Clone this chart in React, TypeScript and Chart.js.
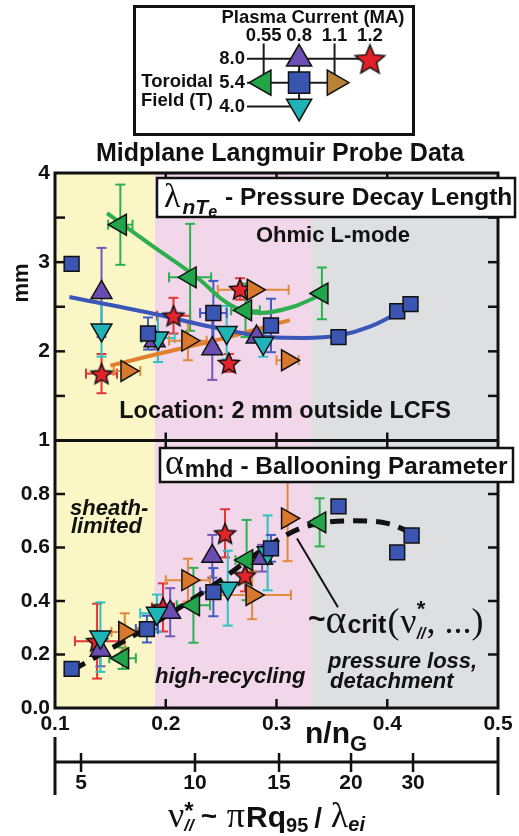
import React, { useEffect, useRef } from 'react';
import { Chart, registerables } from 'chart.js';

Chart.register(...registerables);

const SANS = "'Liberation Sans', Arial, Helvetica, sans-serif";
const SERIF = "'Liberation Serif', 'DejaVu Serif', 'Times New Roman', serif";

// ---------- axes ----------
const densityTicks = [0.1, 0.2, 0.3, 0.4, 0.5];
const lambdaTickMarks = [1.5, 2, 2.5, 3, 3.5];
const alphaTickMarks = [0.2, 0.4, 0.6, 0.8];
const nuTickLabels = [5, 10, 15, 20, 30];
const nuTickDensity = [0.1235, 0.2264, 0.3023, 0.3673, 0.4233];
const regionBounds = [0.1, 0.19, 0.332, 0.5];
const regionColors = ['#FAF6C6', '#F2D6EA', '#DEDFE1'];

// ---------- legend (schematic) ----------
const currentLabels = ['0.55', '0.8', '1.1', '1.2'];
const fieldLabels = ['4.0', '5.4', '8.0'];
const fieldLineEnd = [1, 2, 3];
// order: purple, red, green, blue, orange, cyan
const legendCurrentIdx = [1, 3, 0, 1, 2, 1];
const legendFieldIdx = [2, 2, 1, 1, 1, 0];

// ---------- colours ----------
const C = {
  blue: '#3A55B2',
  green: '#22A44A',
  orange: '#D8782C',
  purple: '#6B4DB2',
  cyan: '#1FB5B8',
  red: '#E3242B',
};
const CE = {
  blue: '#3F5CC4',
  green: '#2DB04F',
  orange: '#E08A3C',
  purple: '#7457B8',
  cyan: '#2EC2C2',
  red: '#E53535',
};

// ---------- top panel: lambda_nTe (mm) ----------
const blueTopX = [0.115, 0.184, 0.243, 0.295, 0.356, 0.409, 0.421];
const blueTopY = [2.98, 2.2, 2.43, 2.29, 2.16, 2.45, 2.53];
const blueTopYErr = [0.05, 0.18, 0.36, 0.3, 0, 0, 0];
const blueTopXErr = [0, 0, 0.012, 0, 0, 0, 0];

const greenTopX = [0.159, 0.222, 0.272, 0.341];
const greenTopY = [3.42, 2.83, 2.46, 2.65];
const greenTopYErr = [0.45, 0.6, 0.3, 0.29];
const greenTopXErr = [0.011, 0.019, 0.013, 0];

const orangeTopX = [0.165, 0.22, 0.279, 0.31];
const orangeTopY = [1.78, 2.12, 2.69, 1.9];
const orangeTopYErr = [0.05, 0.22, 0.05, 0.04];
const orangeTopXErr = [0.012, 0.017, 0.032, 0.01];

const purpleTopX = [0.142, 0.19, 0.242, 0.282];
const purpleTopY = [2.66, 2.12, 2.03, 2.16];
const purpleTopYErr = [0.5, 0.1, 0.35, 0.06];
const purpleTopXErr = [0, 0, 0, 0];

const cyanTopX = [0.142, 0.193, 0.255, 0.288];
const cyanTopY = [2.24, 2.15, 2.21, 2.09];
const cyanTopYErr = [0.3, 0.27, 0.3, 0.15];
const cyanTopXErr = [0, 0.015, 0, 0];

const redTopX = [0.142, 0.207, 0.257, 0.267];
const redTopY = [1.75, 2.4, 1.87, 2.7];
const redTopYErr = [0.22, 0.2, 0.1, 0.12];
const redTopXErr = [0.014, 0.015, 0, 0];

const blueFitX = [0.113, 0.186, 0.243, 0.294, 0.325, 0.357, 0.385, 0.409, 0.425];
const blueFitY = [2.61, 2.43, 2.27, 2.16, 2.15, 2.18, 2.28, 2.43, 2.56];
const greenFitX = [0.147, 0.186, 0.231, 0.249, 0.265, 0.285, 0.315, 0.341];
const greenFitY = [3.55, 3.2, 2.8, 2.6, 2.48, 2.43, 2.5, 2.64];
const orangeFitX = [0.15, 0.186, 0.25, 0.312];
const orangeFitY = [1.84, 1.95, 2.14, 2.35];

// ---------- bottom panel: alpha_mhd ----------
const blueBotX = [0.115, 0.183, 0.243, 0.295, 0.356, 0.409, 0.422];
const blueBotY = [0.146, 0.295, 0.433, 0.597, 0.754, 0.582, 0.645];
const blueBotYErr = [0.01, 0.05, 0.09, 0.05, 0, 0, 0];
const blueBotXErr = [0, 0.01, 0.012, 0, 0, 0, 0];

const greenBotX = [0.161, 0.225, 0.273, 0.339];
const greenBotY = [0.186, 0.384, 0.553, 0.694];
const greenBotYErr = [0.04, 0.14, 0.15, 0.09];
const greenBotXErr = [0.012, 0.015, 0.01, 0.005];

const orangeBotX = [0.163, 0.22, 0.278, 0.31];
const orangeBotY = [0.284, 0.478, 0.422, 0.709];
const orangeBotYErr = [0.07, 0.08, 0.09, 0.16];
const orangeBotXErr = [0.012, 0.02, 0.035, 0];

const purpleBotX = [0.141, 0.204, 0.242, 0.287];
const purpleBotY = [0.216, 0.358, 0.567, 0.56];
const purpleBotYErr = [0.06, 0.09, 0.08, 0.05];
const purpleBotXErr = [0, 0, 0, 0];

const cyanBotX = [0.141, 0.192, 0.256, 0.292];
const cyanBotY = [0.265, 0.354, 0.448, 0.58];
const cyanBotYErr = [0.13, 0.07, 0.14, 0.14];
const cyanBotXErr = [0, 0.015, 0, 0];

const redBotX = [0.138, 0.1975, 0.2535, 0.2716];
const redBotY = [0.25, 0.376, 0.653, 0.496];
const redBotYErr = [0.14, 0.09, 0.09, 0.06];
const redBotXErr = [0.02, 0.01, 0, 0];

const alphaFitX = [0.116, 0.183, 0.24, 0.294, 0.324, 0.369, 0.4, 0.427];
const alphaFitY = [0.142, 0.3, 0.45, 0.61, 0.675, 0.7, 0.69, 0.645];

const pointerX = [0.3185, 0.3555];
const pointerY = [0.634, 0.377];

// ---------- helpers ----------
function makeStar(R: number, fill: string) {
  const pad = 3;
  const size = Math.ceil(2 * R + 2 * pad);
  const c = document.createElement('canvas');
  c.width = size;
  c.height = size;
  const g = c.getContext('2d')!;
  const cx = size / 2;
  const cy = size / 2 + R * 0.1;
  const r = R * 0.45;
  g.beginPath();
  for (let i = 0; i < 10; i++) {
    const a = -Math.PI / 2 + (i * Math.PI) / 5;
    const rr = i % 2 === 0 ? R : r;
    const px = cx + rr * Math.cos(a);
    const py = cy + rr * Math.sin(a);
    if (i === 0) g.moveTo(px, py);
    else g.lineTo(px, py);
  }
  g.closePath();
  g.fillStyle = fill;
  g.fill();
  g.lineWidth = 1.5;
  g.strokeStyle = '#111';
  g.stroke();
  return c;
}

function pts(xs: number[], ys: number[]) {
  return xs.map((x, i) => ({ x, y: ys[i] }));
}

function markerSet(
  xs: number[], ys: number[], axis: string, color: string, style: any, rotation: number,
  radius: number, errY: number[], errX: number[], errColor: string, order: number
) {
  return {
    type: 'scatter',
    data: pts(xs, ys),
    yAxisID: axis,
    xAxisID: 'x',
    pointStyle: style,
    pointRotation: rotation,
    pointRadius: radius,
    pointBackgroundColor: color,
    pointBorderColor: '#111',
    pointBorderWidth: 1.5,
    showLine: false,
    errY,
    errX,
    errColor,
    order,
  };
}

function fitSet(xs: number[], ys: number[], axis: string, color: string, width: number, dash: number[]) {
  return {
    type: 'line',
    data: pts(xs, ys),
    yAxisID: axis,
    xAxisID: 'x',
    borderColor: color,
    borderWidth: width,
    borderDash: dash,
    borderCapStyle: 'butt',
    pointRadius: 0,
    fill: false,
    cubicInterpolationMode: 'monotone',
    order: 20,
  };
}

function line(ctx: CanvasRenderingContext2D, x1: number, y1: number, x2: number, y2: number) {
  ctx.beginPath();
  ctx.moveTo(x1, y1);
  ctx.lineTo(x2, y2);
  ctx.stroke();
}

type Run = { t: string; f: string; dy?: number; stack?: boolean; gap?: number };
function drawRuns(ctx: CanvasRenderingContext2D, x: number, y: number, runs: Run[]) {
  let cx = x;
  for (let i = 0; i < runs.length; i++) {
    const r = runs[i];
    ctx.font = r.f;
    ctx.fillText(r.t, cx, y + (r.dy || 0));
    let w = ctx.measureText(r.t).width;
    if (r.stack && runs[i + 1]) {
      const n = runs[i + 1];
      ctx.font = n.f;
      ctx.fillText(n.t, cx, y + (n.dy || 0));
      w = Math.max(w, ctx.measureText(n.t).width);
      i++;
      cx += w + (n.gap || 0);
      continue;
    }
    cx += w + (r.gap || 0);
  }
  return cx;
}

const B = (s: number) => `bold ${s}px ${SANS}`;
const BI = (s: number) => `italic bold ${s}px ${SANS}`;
const S = (s: number) => `${s}px ${SERIF}`;

const figurePlugin = {
  id: 'figure',
  beforeDatasetsDraw(chart: any) {
    const { ctx, chartArea: ca, scales } = chart;
    const xs = scales.x;
    ctx.save();
    for (let i = 0; i < regionColors.length; i++) {
      const a = xs.getPixelForValue(regionBounds[i]);
      const b = xs.getPixelForValue(regionBounds[i + 1]);
      ctx.fillStyle = regionColors[i];
      ctx.fillRect(a, ca.top, b - a, ca.height);
    }
    ctx.lineWidth = 2;
    const cap = 5;
    chart.data.datasets.forEach((ds: any) => {
      if (!ds.errY) return;
      const ys = scales[ds.yAxisID];
      ctx.strokeStyle = ds.errColor;
      ds.data.forEach((p: any, j: number) => {
        const px = xs.getPixelForValue(p.x);
        const py = ys.getPixelForValue(p.y);
        const ey = ds.errY[j] || 0;
        const ex = (ds.errX && ds.errX[j]) || 0;
        if (ey > 0) {
          const a = ys.getPixelForValue(p.y + ey);
          const b = ys.getPixelForValue(p.y - ey);
          line(ctx, px, a, px, b);
          line(ctx, px - cap, a, px + cap, a);
          line(ctx, px - cap, b, px + cap, b);
        }
        if (ex > 0) {
          const a = xs.getPixelForValue(p.x - ex);
          const b = xs.getPixelForValue(p.x + ex);
          line(ctx, a, py, b, py);
          line(ctx, a, py - cap, a, py + cap);
          line(ctx, b, py - cap, b, py + cap);
        }
      });
    });
    ctx.restore();
  },
  afterDatasetsDraw(chart: any) {
    const { ctx, chartArea: ca, scales } = chart;
    const xs = scales.x;
    const yT = scales.yTop;
    const yB = scales.yBot;
    const x2 = scales.x2;
    const mid = yT.bottom;
    ctx.save();
    ctx.strokeStyle = '#111';
    ctx.fillStyle = '#111';
    ctx.lineWidth = 3;
    ctx.strokeRect(ca.left, ca.top, ca.width, ca.height);
    line(ctx, ca.left, mid, ca.right, mid);
    ctx.lineWidth = 2.5;
    for (const v of densityTicks.slice(1, -1)) {
      const px = xs.getPixelForValue(v);
      line(ctx, px, ca.top, px, ca.top + 9);
      line(ctx, px, mid - 8, px, mid + 8);
      line(ctx, px, ca.bottom - 9, px, ca.bottom);
    }
    for (const v of lambdaTickMarks) {
      const py = yT.getPixelForValue(v);
      line(ctx, ca.left, py, ca.left + 10, py);
      line(ctx, ca.right - 10, py, ca.right, py);
    }
    for (const v of alphaTickMarks) {
      const py = yB.getPixelForValue(v);
      line(ctx, ca.left, py, ca.left + 10, py);
      line(ctx, ca.right - 10, py, ca.right, py);
    }
    // secondary collisionality axis
    const ay = x2.top;
    ctx.lineWidth = 3;
    line(ctx, ca.left, ay, ca.right, ay);
    line(ctx, ca.left, ay - 25, ca.left, ay + 33);
    line(ctx, ca.right, ay - 25, ca.right, ay + 33);
    ctx.lineWidth = 2.5;
    for (const v of nuTickDensity) {
      const px = x2.getPixelForValue(v);
      line(ctx, px, ay - 9, px, ay + 10);
    }

    // title
    ctx.textBaseline = 'alphabetic';
    ctx.textAlign = 'center';
    ctx.font = B(25);
    ctx.fillText('Midplane Langmuir Probe Data', 280, 26);

    // mm label
    ctx.save();
    ctx.translate(22, 148);
    ctx.rotate(-Math.PI / 2);
    ctx.textBaseline = 'middle';
    ctx.font = B(22);
    ctx.fillText('mm', 0, 0);
    ctx.restore();

    ctx.font = B(22);
    ctx.fillText('Ohmic L-mode', 333, 107);
    ctx.font = B(23.5);
    ctx.fillText('Location: 2 mm outside LCFS', 285, 283);

    ctx.textAlign = 'left';
    // lambda box
    ctx.fillStyle = '#fff';
    ctx.fillRect(157, 43, 358, 39);
    ctx.lineWidth = 2.5;
    ctx.strokeRect(157, 43, 358, 39);
    ctx.fillStyle = '#111';
    drawRuns(ctx, 164, 72, [
      { t: 'λ', f: S(34), gap: 2 },
      { t: 'nT', f: BI(21), dy: 7 },
      { t: 'e', f: BI(16), dy: 10, gap: 8 },
      { t: '- Pressure Decay Length', f: B(24.5), dy: -2 },
    ]);

    // alpha box
    ctx.fillStyle = '#fff';
    ctx.fillRect(160, 313, 353, 34);
    ctx.strokeRect(160, 313, 353, 34);
    ctx.fillStyle = '#111';
    drawRuns(ctx, 165, 339, [
      { t: 'α', f: S(36), gap: 1 },
      { t: 'mhd', f: B(23), dy: 3, gap: 7 },
      { t: '- Ballooning Parameter', f: B(24.4) },
    ]);

    ctx.font = BI(22);
    ctx.fillText('sheath-', 70, 380);
    ctx.fillText('limited', 71, 398);
    ctx.fillText('high-recycling', 155, 548);
    ctx.fillText('pressure loss,', 328, 533);
    ctx.fillText('detachment', 330, 553);

    drawRuns(ctx, 308, 498, [
      { t: '~', f: B(30), dy: -4 },
      { t: 'α', f: S(40), gap: 1 },
      { t: 'crit', f: B(25), dy: 0, gap: 1 },
      { t: '(', f: S(36), gap: 1 },
      { t: 'ν', f: S(36), gap: 0 },
      { t: '*', f: B(22), dy: -17, stack: true },
      { t: '//', f: BI(16), dy: 6, gap: 1 },
      { t: ', ...)', f: S(36) },
    ]);

    // n/nG
    drawRuns(ctx, 305, 608, [
      { t: 'n/n', f: B(30) },
      { t: 'G', f: B(22), dy: 8 },
    ]);

    // nu title
    drawRuns(ctx, 168, 692, [
      { t: 'ν', f: S(36), gap: 0 },
      { t: '*', f: B(24), dy: -8, stack: true },
      { t: '//', f: BI(17), dy: 4, gap: 7 },
      { t: '~ ', f: B(28), dy: -2, gap: 2 },
      { t: 'π', f: S(36), gap: 1 },
      { t: 'Rq', f: B(30) },
      { t: '95', f: B(20), dy: 5, gap: 6 },
      { t: '/ ', f: B(28), gap: 1 },
      { t: 'λ', f: S(36) },
      { t: 'ei', f: BI(20), dy: 4 },
    ]);
    ctx.restore();
  },
};

function mainConfig(star: HTMLCanvasElement): any {
  const datasets: any[] = [
    fitSet(blueFitX, blueFitY, 'yTop', '#3A56B8', 4, []),
    fitSet(greenFitX, greenFitY, 'yTop', '#2EAE4E', 4, []),
    fitSet(orangeFitX, orangeFitY, 'yTop', '#E27F2E', 4, []),
    fitSet(alphaFitX, alphaFitY, 'yBot', '#111', 5, [14, 9]),
    fitSet(pointerX, pointerY, 'yBot', '#111', 2, []),

    markerSet(redTopX, redTopY, 'yTop', C.red, star, 0, 11, redTopYErr, redTopXErr, CE.red, 7),
    markerSet(greenTopX, greenTopY, 'yTop', C.green, 'triangle', 270, 12, greenTopYErr, greenTopXErr, CE.green, 6),
    markerSet(purpleTopX, purpleTopY, 'yTop', C.purple, 'triangle', 0, 12, purpleTopYErr, purpleTopXErr, CE.purple, 5),
    markerSet(cyanTopX, cyanTopY, 'yTop', C.cyan, 'triangle', 180, 12, cyanTopYErr, cyanTopXErr, CE.cyan, 4),
    markerSet(blueTopX, blueTopY, 'yTop', C.blue, 'rect', 0, 10.5, blueTopYErr, blueTopXErr, CE.blue, 3),
    markerSet(orangeTopX, orangeTopY, 'yTop', C.orange, 'triangle', 90, 12, orangeTopYErr, orangeTopXErr, CE.orange, 2),

    markerSet(redBotX, redBotY, 'yBot', C.red, star, 0, 11, redBotYErr, redBotXErr, CE.red, 7),
    markerSet(greenBotX, greenBotY, 'yBot', C.green, 'triangle', 270, 12, greenBotYErr, greenBotXErr, CE.green, 6),
    markerSet(purpleBotX, purpleBotY, 'yBot', C.purple, 'triangle', 0, 12, purpleBotYErr, purpleBotXErr, CE.purple, 5),
    markerSet(cyanBotX, cyanBotY, 'yBot', C.cyan, 'triangle', 180, 12, cyanBotYErr, cyanBotXErr, CE.cyan, 4),
    markerSet(blueBotX, blueBotY, 'yBot', C.blue, 'rect', 0, 10.5, blueBotYErr, blueBotXErr, CE.blue, 3),
    markerSet(orangeBotX, orangeBotY, 'yBot', C.orange, 'triangle', 90, 12, orangeBotYErr, orangeBotXErr, CE.orange, 2),
  ];
  const tickFont = { family: SANS, size: 21, weight: 'bold' };
  return {
    type: 'scatter',
    data: { datasets },
    plugins: [figurePlugin],
    options: {
      animation: false,
      responsive: false,
      events: [],
      layout: { padding: { left: 0, right: 21, top: 38, bottom: 0 } },
      plugins: { legend: { display: false }, tooltip: { enabled: false }, title: { display: false } },
      scales: {
        yBot: {
          type: 'linear', position: 'left', stack: 'panels', stackWeight: 1,
          min: 0, max: 1,
          ticks: {
            stepSize: 0.2, font: tickFont, color: '#111', padding: 5,
            callback: (v: number) => (v > 0.95 ? '' : v.toFixed(1)),
          },
          grid: { display: false, drawTicks: false },
          border: { display: false },
          afterFit: (s: any) => { s.width = 55; },
        },
        yTop: {
          type: 'linear', position: 'left', stack: 'panels', stackWeight: 1,
          min: 1, max: 4,
          ticks: {
            stepSize: 0.5, font: tickFont, color: '#111', padding: 5,
            callback: (v: number) => (Math.abs(v - Math.round(v)) < 1e-6 ? String(Math.round(v)) : ''),
          },
          grid: { display: false, drawTicks: false },
          border: { display: false },
          afterFit: (s: any) => { s.width = 55; },
        },
        x: {
          type: 'linear', position: 'bottom', min: 0.1, max: 0.5,
          afterBuildTicks: (s: any) => { s.ticks = densityTicks.map((v) => ({ value: v })); },
          ticks: { font: tickFont, color: '#111', padding: 4, autoSkip: false, maxRotation: 0, callback: (v: number) => v.toFixed(1) },
          grid: { display: false, drawTicks: false },
          border: { display: false },
          afterFit: (s: any) => { s.height = 54; },
        },
        x2: {
          type: 'linear', position: 'bottom', min: 0.1, max: 0.5,
          afterBuildTicks: (s: any) => { s.ticks = nuTickDensity.map((v) => ({ value: v })); },
          ticks: {
            font: tickFont, color: '#111', padding: 9, autoSkip: false, maxRotation: 0,
            callback: (_v: number, i: number) => String(nuTickLabels[i]),
          },
          grid: { display: false, drawTicks: false },
          border: { display: false },
          afterFit: (s: any) => { s.height = 74; },
        },
      },
    },
  };
}

const legendTextPlugin = {
  id: 'legendText',
  afterDraw(chart: any) {
    const { ctx } = chart;
    ctx.save();
    ctx.fillStyle = '#111';
    ctx.textAlign = 'center';
    ctx.textBaseline = 'alphabetic';
    ctx.font = B(18.5);
    ctx.fillText('Plasma Current (MA)', 177, 15);
    ctx.font = B(18.5);
    ctx.fillText('Toroidal', 41, 79);
    ctx.fillText('Field (T)', 41, 98);
    ctx.restore();
  },
};

function legendConfig(star: HTMLCanvasElement): any {
  const xMin = -0.47;
  const yMax = 2.456;
  const lineDs = (data: { x: number; y: number }[]) => ({
    type: 'line', data, borderColor: '#1a1a1a', borderWidth: 2, pointRadius: 0, clip: false, order: 20,
  });
  const datasets: any[] = [];
  fieldLineEnd.forEach((end, f) => {
    datasets.push(lineDs([{ x: xMin, y: f }, { x: end, y: f }]));
  });
  datasets.push(lineDs([{ x: 1, y: 0 }, { x: 1, y: 2 }]));
  datasets.push(lineDs([{ x: 0, y: 2.64 }, { x: 0, y: 1 }]));
  datasets.push(lineDs([{ x: 2, y: 2.64 }, { x: 2, y: 1 }]));

  const styles: any[] = [
    ['triangle', 0, '#6B4FB2', 14.5],
    [star, 0, '#E0202A', 15],
    ['triangle', 270, '#22A645', 14.5],
    ['rect', 0, '#3856B0', 15],
    ['triangle', 90, '#B98236', 14.5],
    ['triangle', 180, '#1FB3B5', 14.5],
  ];
  styles.forEach((s, i) => {
    datasets.push({
      type: 'scatter',
      data: [{ x: legendCurrentIdx[i], y: legendFieldIdx[i] }],
      pointStyle: s[0], pointRotation: s[1], pointBackgroundColor: s[2], pointRadius: s[3],
      pointBorderColor: '#111', pointBorderWidth: 1.5, clip: false, order: 1,
    });
  });
  const font = { family: SANS, size: 18.5, weight: 'bold' };
  return {
    type: 'scatter',
    data: { datasets },
    plugins: [legendTextPlugin],
    options: {
      animation: false,
      responsive: false,
      events: [],
      layout: { padding: { left: 0, right: 14, top: 0, bottom: 3 } },
      plugins: { legend: { display: false }, tooltip: { enabled: false } },
      scales: {
        x: {
          type: 'linear', position: 'top', min: xMin, max: 3.72,
          afterBuildTicks: (s: any) => { s.ticks = currentLabels.map((_l, i) => ({ value: i })); },
          ticks: { font, color: '#111', padding: 1, autoSkip: false, maxRotation: 0, callback: (v: number) => currentLabels[v] ?? '' },
          grid: { display: false, drawTicks: false },
          border: { display: false },
          afterFit: (s: any) => { s.height = 40; },
        },
        y: {
          type: 'linear', position: 'left', min: -0.42, max: yMax,
          afterBuildTicks: (s: any) => { s.ticks = fieldLabels.map((_l, i) => ({ value: i })); },
          ticks: { font, color: '#111', padding: 2, autoSkip: false, callback: (v: number) => fieldLabels[v] ?? '' },
          grid: { display: false, drawTicks: false },
          border: { display: false },
          afterFit: (s: any) => { s.width = 111; },
        },
      },
    },
  };
}

export default function App() {
  const mainRef = useRef<HTMLCanvasElement>(null);
  const legRef = useRef<HTMLCanvasElement>(null);
  useEffect(() => {
    const starSmall = makeStar(11, C.red);
    const starBig = makeStar(15.5, '#E0202A');
    const main = new Chart(mainRef.current!, mainConfig(starSmall));
    const leg = new Chart(legRef.current!, legendConfig(starBig));
    return () => {
      main.destroy();
      leg.destroy();
    };
  }, []);
  return (
    <div style={{ position: 'absolute', left: 0, top: 0, width: 519, height: 836, background: '#fff', overflow: 'hidden' }}>
      <div
        style={{
          position: 'absolute', left: 133, top: 5, width: 282, height: 131,
          border: '3px solid #111', boxSizing: 'border-box', background: '#fff',
        }}
      >
        <canvas ref={legRef} width={276} height={125} style={{ display: 'block', width: 276, height: 125 }} />
      </div>
      <canvas
        ref={mainRef}
        width={519}
        height={701}
        style={{ position: 'absolute', left: 0, top: 135, width: 519, height: 701, display: 'block' }}
      />
    </div>
  );
}
